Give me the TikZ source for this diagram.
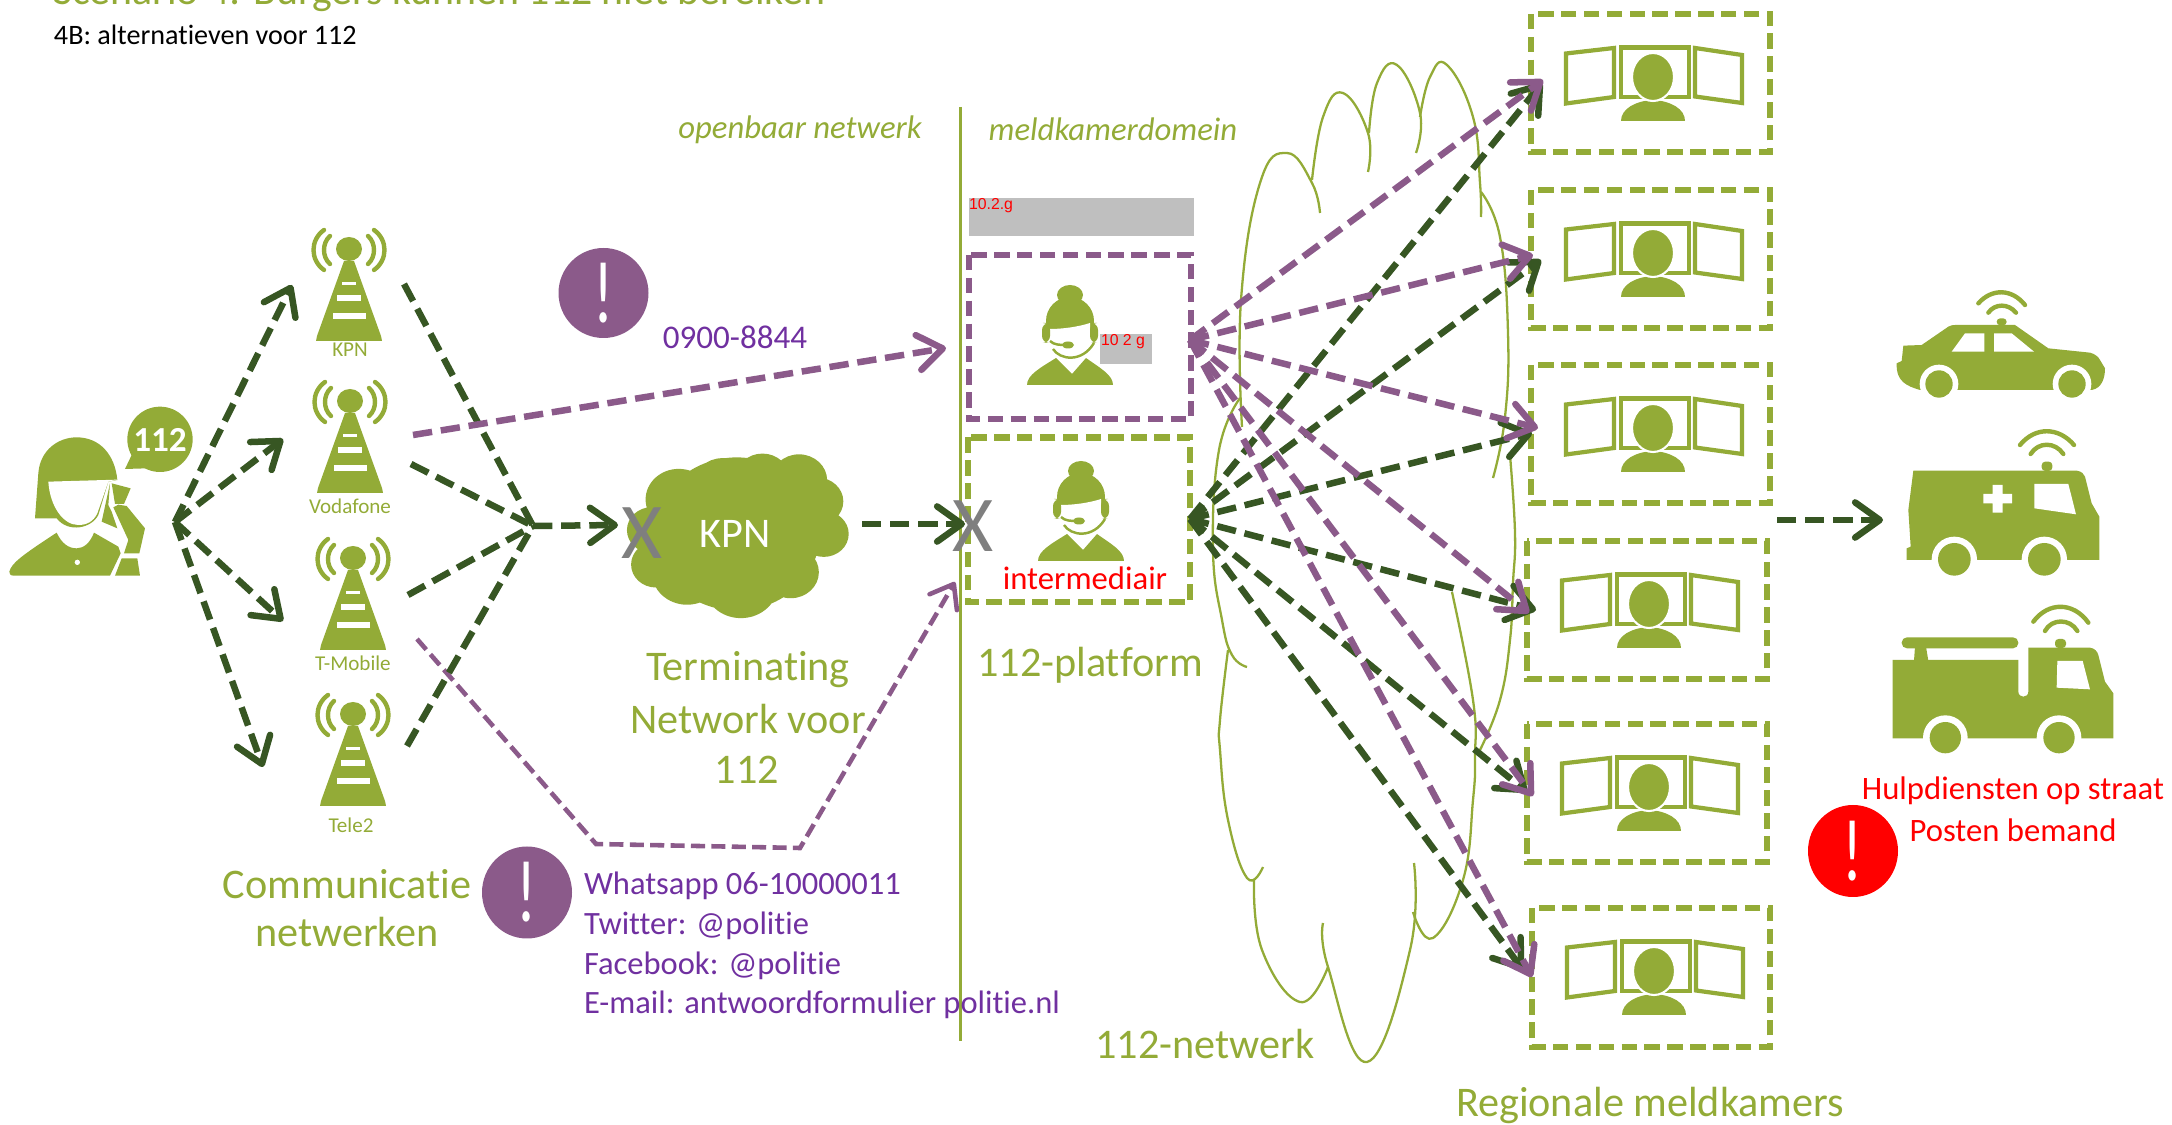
\documentclass[tikz,border=0pt]{standalone}
\usepackage{fontspec}
\setmainfont[Ligatures=NoCommon]{Carlito}
\newfontfamily\arialf{Liberation Sans}
\usetikzlibrary{arrows.meta}
\definecolor{lg}{HTML}{93AB37}
\definecolor{dg}{HTML}{375623}
\definecolor{pu}{HTML}{8B5A8A}
\definecolor{tp}{HTML}{7030A0}
\definecolor{gb}{HTML}{BFBFBF}
\definecolor{gx}{HTML}{7F7F7F}
\newcommand{\fsz}[1]{\fontsize{#1}{#1}\selectfont}
\tikzset{
  txt/.style={inner sep=0pt,outer sep=0pt},
  big/.style={txt,text=lg,font=\fsz{12}},
  small/.style={txt,text=lg,font=\fsz{6}},
  ital/.style={txt,text=lg,font=\fsz{9.3}\itshape},
  purp/.style={txt,text=tp,font=\fsz{9.25},anchor=west},
  redt/.style={txt,text=red,font=\fsz{9.3}},
  xmark/.style={txt,text=gx,font=\fsz{22.5}},
  excl/.style={txt,text=white,font=\fsz{25},xscale=.7},
  tag/.style={txt,text=red,font=\arialf\fsz{4.5}},
  garrow/.style={draw=dg,line width=1.85pt,dash pattern=on 5.5pt off 2.5pt,-{Straight Barb[length=7pt,width=10pt,round]}},
  parrow/.style={draw=pu,line width=1.85pt,dash pattern=on 5.5pt off 2.5pt,-{Straight Barb[length=7pt,width=10pt,round]}},
  gline/.style={draw=dg,line width=1.85pt,dash pattern=on 5.5pt off 2.5pt},
  pthin/.style={draw=pu,line width=1.3pt,dash pattern=on 4pt off 1.8pt},
  bxg/.style={draw=lg,line width=1.9pt,dash pattern=on 4.4pt off 2.1pt},
  bxp/.style={draw=pu,line width=1.9pt,dash pattern=on 4.4pt off 2.1pt},
  cl/.style={draw=lg,line width=.65pt,smooth,tension=.75},
  wave/.style={draw=lg,line width=1.25pt,line cap=round},
  towerpic/.pic={
    \fill[lg] (-5,33) -- (5,33) -- (32,108) -- (33,113) -- (-33,113) -- (-32,108) -- cycle;
    \fill[lg] (0,21) ellipse [x radius=13,y radius=12];
    \fill[white] (-7,54) rectangle (7,57);
    \fill[white] (-12,67) rectangle (12,73);
    \fill[white] (-16.5,85) rectangle (16.5,91);
    \draw[wave] (-19,8) .. controls (-27,15) and (-27,29) .. (-19,36);
    \draw[wave] (19,8) .. controls (27,15) and (27,29) .. (19,36);
    \draw[wave] (-25,2) .. controls (-39,12) and (-39,32) .. (-25,42);
    \draw[wave] (25,2) .. controls (39,12) and (39,32) .. (25,42);
  },
  agentpic/.pic={
    \fill[lg] (-43,100) .. controls (-43,90) and (-30,83) .. (-14,73) -- (2,89) -- (16,73) .. controls (30,83) and (43,90) .. (43,100) -- cycle;
    \fill[lg] (0,10) ellipse [x radius=13,y radius=10];
    \fill[lg] (0,36) ellipse [x radius=24,y radius=24];
    \fill[white] (-20,44) .. controls (-8,44) and (8,42) .. (20,38) -- (20,56) .. controls (14,68) and (6,74) .. (0,74) .. controls (-6,74) and (-14,68) .. (-20,56) -- cycle;
    \fill[lg,rounded corners=2pt] (-28,38) rectangle (-20,58);
    \fill[lg,rounded corners=2pt] (20,38) rectangle (28,58);
    \draw[lg,line width=.7pt] (-20,56) .. controls (-16,60) and (-10,60) .. (-3,60);
    \fill[lg] (-2,60) ellipse [x radius=6,y radius=3.5];
    \draw[lg,line width=.7pt] (-17,64) .. controls (-10,75) and (12,78) .. (24,58);
  },
  monitorpic/.pic={
    \draw[lg,line width=1.2pt,fill=white] (35,39.5) -- (83,34) -- (83,83) -- (35,89.5) -- cycle;
    \draw[lg,line width=1.2pt,fill=white] (90,33.5) rectangle (158,83);
    \draw[lg,line width=1.2pt,fill=white] (164,34) -- (211,41) -- (211,89) -- (164,82.5) -- cycle;
    \fill[lg] (90,107) .. controls (90,95) and (104,87) .. (122,86) .. controls (140,87) and (154,95) .. (154,107) -- cycle;
    \draw[white,line width=.6pt,fill=lg] (122,63) ellipse [x radius=21,y radius=24];
  },
}
\begin{document}
\begin{tikzpicture}[x=0.01cm,y=-0.01cm]
\useasboundingbox (0,0) rectangle (2172,1125);
% thin network cloud
\draw[cl] plot coordinates {(1242,427) (1241,300) (1260,183) (1287,153) (1312,183) (1320,213)};
\draw[cl] plot coordinates {(1312,180) (1323,117) (1343,93) (1368,133) (1368,172)};
\draw[cl] plot coordinates {(1369,133) (1377,83) (1397,65) (1420,113) (1416,153)};
\draw[cl] plot coordinates {(1420,117) (1430,77) (1447,65) (1473,117) (1480,183) (1481,217)};
\draw[cl] plot coordinates {(1481,192) (1500,237) (1508,333) (1505,417) (1493,478)};
\draw[cl] plot coordinates {(1510,455) (1515,533) (1513,583) (1510,640) (1500,700) (1480,750)};
\draw[cl] plot coordinates {(1240,398) (1219,450) (1213,550) (1222,620) (1232,655) (1247,667)};
\draw[cl] plot coordinates {(1228,650) (1220,720) (1220,750) (1228,820) (1247,878) (1263,867)};
\draw[cl] plot coordinates {(1254,880) (1262,950) (1300,1002) (1328,967)};
\draw[cl] plot coordinates {(1323,923) (1328,967) (1367,1062) (1410,950) (1414,863)};
\draw[cl] plot coordinates {(1413,912) (1433,938) (1463,880) (1473,800) (1475,757) (1473,700) (1452,592)};
% divider
\draw[lg,line width=.85pt] (960.5,107) -- (960.5,1041);
% title
\node[txt,anchor=base west,text=lg,font=\fsz{11.9}] (title) at (53,5) {Scenario 4: Burgers kunnen 112 niet bereiken};
\node[txt,anchor=base west,font=\fsz{8}] (sub) at (54,45) {4B: alternatieven voor 112};
\node[ital] (ob) at (800,130) {openbaar netwerk};
\node[ital] (md) at (1113,129) {meldkamerdomein};
% caller
\begin{scope}[shift={(0,400)},scale=1/3]
\fill[lg] (105,355) -- (115,220) .. controls (120,150) and (175,112) .. (230,112) .. controls (300,112) and (345,165) .. (352,240) -- (325,245) -- (295,345) .. controls (275,385) and (205,400) .. (170,355) -- cycle;
\fill[white] (145,245) .. controls (150,320) and (190,375) .. (235,375) .. controls (260,375) and (280,365) .. (292,340) -- (325,245) -- (352,239) -- cycle;
\fill[lg] (330,250) -- (305,365) -- (352,385) -- (335,335) -- (325,315) -- cycle;
\fill[lg] (335,250) -- (392,265) -- (372,312) -- (345,312) -- cycle;
\fill[lg] (340,322) -- (355,314) -- (380,318) -- (435,385) -- (418,460) -- (372,460) -- (385,420) -- cycle;
\fill[lg] (365,475) -- (412,475) -- (420,527) -- (345,527) -- cycle;
\fill[lg] (28,515) .. controls (35,490) and (60,470) .. (170,398) .. controls (185,430) and (205,445) .. (230,445) .. controls (250,445) and (270,430) .. (282,398) -- (355,440) -- (362,460) -- (330,527) -- (40,527) .. controls (30,527) and (28,520) .. (28,515) -- cycle;
\fill[white] (232,487) circle [radius=8];
\fill[lg] (480,118) circle [radius=98];
\fill[lg] (375,207) -- (395,165) -- (440,205) -- cycle;
\end{scope}
\node[txt,text=white,font=\bfseries\fsz{10}] (num) at (160,440) {112};
% towers
\pic at (349,228) {towerpic};
\pic at (350,380) {towerpic};
\pic at (353,537) {towerpic};
\pic at (353,693) {towerpic};
\node[small] (tk) at (350,350) {KPN};
\node[small] (tv) at (350,506) {Vodafone};
\node[small] (tt) at (353,663) {T-Mobile};
\node[small] (tl) at (351,825) {Tele2};
% KPN cloud
\begin{scope}[shift={(600,90)},xscale=.4145,yscale=.3827]
\fill[lg] (190,1070) circle [radius=80] (295,1030) circle [radius=68] (392,1015) circle [radius=65] (480,1020) circle [radius=68] (525,1075) circle [radius=62] (540,1160) circle [radius=60] (460,1260) circle [radius=68] (340,1290) circle [radius=90] (210,1260) circle [radius=85] (135,1240) circle [radius=60] (125,1150) circle [radius=60] (330,1160) circle [radius=200];
\end{scope}
\node[txt,text=white,font=\fsz{12}] (kpn) at (735,534) {KPN};
% platform boxes
\draw[bxg] (968,437.5) rectangle (1190,602);
\draw[bxp] (969,255) rectangle (1191,419);
\fill[gb] (969,198) rectangle (1194,236);
\node[tag,anchor=west] (tg1) at (969,206) {10.2.g};
\pic at (1070,285) {agentpic};
\pic at (1081,461) {agentpic};
\fill[gb] (1100,334) rectangle (1152,364);
\node[tag,anchor=west] (tg2) at (1101,342) {10 2 g};
\node[redt] (im) at (1085,578) {intermediair};
% regional boxes
\foreach \a/\b/\c/\d in {1531/14/1770/152,1531/190/1770/328,1531/365/1770/503,1527/541/1767/679,1527/724/1767/862,1532/908/1770/1047}{
  \draw[bxg] (\a,\b) rectangle (\c,\d);
}
\pic at (1531,14) {monitorpic};
\pic at (1531,190) {monitorpic};
\pic at (1531,365) {monitorpic};
\pic at (1527,541) {monitorpic};
\pic at (1527,724) {monitorpic};
\pic at (1532,908) {monitorpic};
% connector ends
\coordinate (caller) at (175,522);
\coordinate (ck) at (292,285);
\coordinate (cv) at (283,439);
\coordinate (ct) at (283,621);
\coordinate (cl2) at (263,767);
\coordinate (mk) at (404,284);
\coordinate (mv) at (411,464);
\coordinate (mt) at (408,595);
\coordinate (ml) at (407,746);
\coordinate (merge) at (533,526);
\coordinate (ci) at (618,525);
\coordinate (ko) at (862,524);
\coordinate (pi) at (965,524);
\coordinate (s0900) at (413,435);
\coordinate (e0900) at (946,348);
\coordinate (w0) at (417,639);
\coordinate (w1) at (596,844);
\coordinate (w2) at (800,848);
\coordinate (w3) at (955,582);
\coordinate (hg) at (1190,519);
\coordinate (hp) at (1190,340);
\coordinate (g1) at (1542,83);
\coordinate (g2) at (1541,260);
\coordinate (g3) at (1532,433);
\coordinate (g4) at (1536,610);
\coordinate (g5) at (1527,792);
\coordinate (g6) at (1523,970);
\coordinate (p1) at (1543,80);
\coordinate (p2) at (1533,255);
\coordinate (p3) at (1538,428);
\coordinate (p4) at (1529,613);
\coordinate (p5) at (1533,796);
\coordinate (p6) at (1532,977);
\coordinate (ra) at (1777,520);
\coordinate (rb) at (1883,520);
% connectors
\draw[pthin,-{Straight Barb[length=6pt,width=9pt,round]}] (w0) -- (w1) -- (w2) -- (w3);
\foreach \t in {ck,cv,ct,cl2}{\draw[garrow] (caller) -- (\t);}
\foreach \t in {mk,mv,mt,ml}{\draw[gline] (\t) -- (merge);}
\draw[garrow] (merge) -- (ci);
\draw[garrow] (ko) -- (pi);
\draw[parrow] (s0900) -- (e0900);
\foreach \t in {g1,g2,g3,g4,g5,g6}{\draw[garrow] (hg) -- (\t);}
\foreach \t in {p1,p2,p3,p4,p5,p6}{\draw[parrow] (hp) -- (\t);}
\draw[garrow] (ra) -- (rb);
% X marks
\node[xmark] (x1) at (642.5,533) {X};
\node[xmark] (x2) at (973,526) {X};
% labels
\node[txt,text=tp,font=\fsz{9.4}] (n0900) at (735,337) {0900-8844};
\node[big] (plat) at (1090,665) {112-platform};
\node[big] (t1) at (748,670) {Terminating};
\node[big] (t2) at (748,719) {Network voor};
\node[big] (t3) at (747,770) {112};
\node[big] (c1) at (347,884) {Communicatie};
\node[big] (c2) at (347,932) {netwerken};
\node[purp] (wa) at (584,886) {Whatsapp 06-10000011};
\node[purp] (tw) at (584,926) {Twitter: @politie};
\node[purp] (fb) at (584,966) {Facebook: @politie};
\node[purp] (em) at (584,1005) {E-mail: antwoordformulier politie.nl};
\node[big] (net) at (1205,1044) {112-netwerk};
\node[big] (reg) at (1650,1105) {Regionale meldkamers};
\node[redt] (h1) at (2013,791) {Hulpdiensten op straat};
\node[redt] (h2) at (2013,830) {Posten bemand};
% alert circles
\fill[pu] (603.5,293) ellipse [x radius=45,y radius=45];
\node[excl] (e1) at (603.5,293) {!};
\fill[pu] (527,892.5) ellipse [x radius=45,y radius=46];
\node[excl] (e2) at (527,892.5) {!};
\fill[red] (1853,851) ellipse [x radius=45,y radius=46];
\node[excl] (e3) at (1853,851) {!};
% car
\begin{scope}[shift={(1860,280)},scale=1/3]
\fill[lg] (110,250) -- (125,243) -- (130,197) -- (185,195) -- (265,140) .. controls (272,136) and (278,135) .. (285,135) -- (465,135) -- (565,205) -- (690,218) .. controls (705,222) and (715,230) .. (720,240) -- (735,265) .. controls (735,295) and (725,325) .. (695,330) -- (180,330) .. controls (140,318) and (108,305) .. (110,250) -- cycle;
\fill[white] (237,312) circle [radius=58] (636,312) circle [radius=58];
\fill[lg] (237,312) circle [radius=41] (636,312) circle [radius=41];
\fill[white] (275,215) -- (315,160) -- (373,160) -- (373,215) -- cycle;
\fill[white] (402,160) -- (455,160) -- (522,215) -- (402,215) -- cycle;
\fill[lg,rounded corners=1pt] (410,115) rectangle (440,136);
\draw[wave] (355,70) .. controls (395,25) and (455,25) .. (495,75);
\draw[wave] (385,98) .. controls (405,70) and (445,70) .. (468,98);
% ambulance
\fill[lg] (160,572) -- (650,572) .. controls (665,574) and (672,582) .. (675,590) -- (695,670) -- (718,710) -- (718,840) -- (140,840) -- (140,805) -- (152,800) -- (145,690) -- cycle;
\fill[white] (283,838) circle [radius=68] (553,838) circle [radius=68];
\fill[lg] (283,838) circle [radius=49] (553,838) circle [radius=49];
\fill[white] (523,612) -- (625,612) -- (648,703) -- (523,685) -- cycle;
\fill[white] (370,642) -- (398,642) -- (398,615) -- (428,615) -- (428,642) -- (456,642) -- (456,670) -- (428,670) -- (428,698) -- (398,698) -- (398,670) -- (370,670) -- cycle;
\fill[lg,rounded corners=1pt] (545,545) rectangle (577,573);
\draw[wave] (480,495) .. controls (525,440) and (595,440) .. (642,495);
\draw[wave] (512,522) .. controls (535,485) and (585,485) .. (610,522);
\end{scope}
% fire truck
\begin{scope}[shift={(1860,560)},scale=1/3]
\fill[lg,rounded corners=1.5pt] (125,232) rectangle (475,265);
\fill[lg] (165,260) -- (198,260) -- (205,302) -- (162,302) -- cycle;
\fill[lg] (98,300) -- (475,300) -- (475,395) .. controls (475,415) and (505,415) .. (505,395) -- (505,263) -- (690,263) .. controls (705,265) and (712,275) .. (715,285) -- (735,365) -- (760,400) -- (760,535) -- (98,535) -- cycle;
\fill[white] (256,533) circle [radius=67] (597,533) circle [radius=67];
\fill[lg] (256,533) circle [radius=47] (597,533) circle [radius=47];
\fill[white] (592,303) -- (668,303) -- (690,388) -- (590,383) -- cycle;
\fill[lg,rounded corners=1pt] (585,237) rectangle (618,264);
\draw[wave] (520,185) .. controls (565,125) and (640,125) .. (685,188);
\draw[wave] (555,213) .. controls (575,175) and (630,175) .. (652,213);
\end{scope}
\end{tikzpicture}
\end{document}
